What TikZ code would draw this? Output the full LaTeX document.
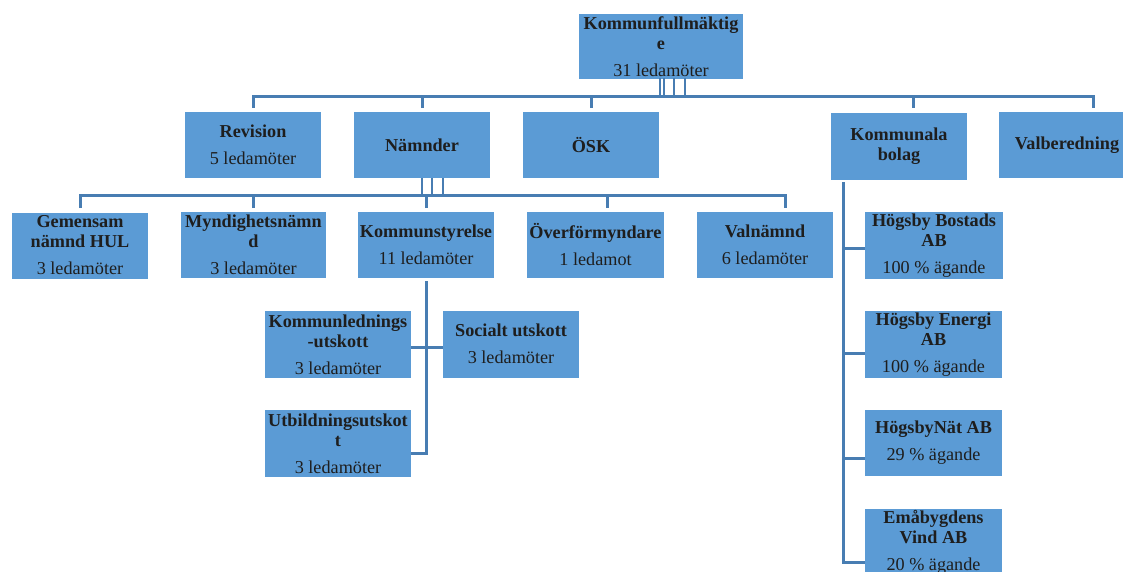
\documentclass[tikz,border=0pt]{standalone}
\usepackage{fontspec}
\setmainfont{Liberation Serif}
\usepackage{tikz}
\usetikzlibrary{calc}
\definecolor{boxblue}{RGB}{91,155,213}
\definecolor{lineblue}{RGB}{72,125,178}
\definecolor{textdark}{RGB}{30,30,30}
\tikzstyle{orgbox}=[fill=boxblue, text=textdark, align=center, inner sep=0pt, minimum width=136pt, minimum height=66pt, font=\fontsize{18.2}{20}\selectfont]
\tikzstyle{line}=[draw=lineblue, line width=3pt]
\tikzstyle{tick}=[draw=lineblue, line width=2.2pt]

\begin{document}
\begin{tikzpicture}[x=1pt, y=-1pt]
	\useasboundingbox (0,0) rectangle (1123,572);
	\clip (0,0) rectangle (1123,572);

	\node[orgbox, minimum width=164pt, minimum height=65pt] (kf) at (661,46.5) {\textbf{Kommunfullmäktig}\\\textbf{e}\\[7pt]31 ledamöter};

	\node[orgbox] (rev) at (253,145) {\textbf{Revision}\\[7pt]5 ledamöter};
	\node[orgbox] (nam) at (422,145) {\textbf{Nämnder}};
	\node[orgbox] (osk) at (591,145) {\textbf{ÖSK}};
	\node[orgbox] (kb) at (899,146.5) {\textbf{Kommunala}\\\textbf{bolag}};
	\node[orgbox] (vb) at (1067,145) {\textbf{Valberedning}};

	\node[orgbox] (gem) at (80,245.5) {\textbf{Gemensam}\\\textbf{nämnd HUL}\\[7pt]3 ledamöter};
	\node[orgbox, minimum width=145pt] (myn) at (253.5,245) {\textbf{Myndighetsnämn}\\\textbf{d}\\[7pt]3 ledamöter};
	\node[orgbox] (ks) at (426,245) {\textbf{Kommunstyrelse}\\[7pt]11 ledamöter};
	\node[orgbox, minimum width=137pt] (ofm) at (595.5,245) {\textbf{Överförmyndare}\\[7pt]1 ledamot};
	\node[orgbox] (valn) at (765,245) {\textbf{Valnämnd}\\[7pt]6 ledamöter};

	\node[orgbox, minimum width=146pt, minimum height=67pt] (kl) at (338,344.5) {\textbf{Kommunlednings}\\\textbf{-utskott}\\[7pt]3 ledamöter};
	\node[orgbox, minimum height=67pt] (soc) at (511,344) {\textbf{Socialt utskott}\\[7pt]3 ledamöter};
	\node[orgbox, minimum width=146pt, minimum height=67pt] (utb) at (338,443.5) {\textbf{Utbildningsutskot}\\\textbf{t}\\[7pt]3 ledamöter};

	\node[orgbox, minimum width=138pt, minimum height=67pt] (hb) at (934,245.5) {\textbf{Högsby Bostads}\\\textbf{AB}\\[7pt]100 \% ägande};
	\node[orgbox, minimum width=137pt, minimum height=67pt] (he) at (933.5,344.5) {\textbf{Högsby Energi}\\\textbf{AB}\\[7pt]100 \% ägande};
	\node[orgbox, minimum width=137pt] (hn) at (933.5,443) {\textbf{HögsbyNät AB}\\[7pt]29 \% ägande};
	\node[orgbox, minimum width=137pt, minimum height=67pt] (ev) at (933.5,542.5) {\textbf{Emåbygdens}\\\textbf{Vind AB}\\[7pt]20 \% ägande};

	% Top level
	\coordinate (bus1) at (0,97);
	\coordinate (kbtop) at ([xshift=14pt]kb.north |- 0,108);
	\coordinate (vbtop) at ([xshift=26pt,yshift=4pt]vb.north);
	\foreach \dx in {-1,3,13,24}
	\draw[tick] (661+\dx,78) -- (661+\dx,97);
	\draw[line] ([yshift=4pt]rev.north) |- (vbtop |- bus1) -- (vbtop);
	\foreach \n in {nam,osk}
	\draw[line] ([yshift=4pt]\n.north) -- (\n.north |- bus1);
	\draw[line] (kbtop) -- (kbtop |- bus1);

	% Nämnder
	\coordinate (bus2) at (0,195);
	\coordinate (ofmtop) at ([xshift=11.5pt]ofm.north |- 0,208);
	\coordinate (valntop) at ([xshift=20pt]valn.north |- 0,208);
	\foreach \dx in {0,10,21}
	\draw[tick] ([xshift=\dx pt]nam.south) -- ++(0,17);
	\draw[line] (gem.north |- 0,208) |- (valntop |- bus2) -- (valntop);
	\foreach \n in {myn,ks}
	\draw[line] (\n.north |- 0,208) -- (\n.north |- bus2);
	\draw[line] (ofmtop) -- (ofmtop |- bus2);

	% Kommunstyrelse
	\coordinate (kstrunk) at (ks.south |- 0,281);
	\draw[line] (kstrunk) |- (utb.east |- 0,453);
	\draw[line] (kl.east |- 0,347) -- (soc.west |- 0,347);

	% Kommunala bolag
	\coordinate (kbtrunk) at (843,182);
	\draw[line] (kbtrunk) |- (ev.west |- 0,562);
	\foreach \n/\y in {hb/248,he/353,hn/458}
	\draw[line] (\n.west |- 0,\y) -| (kbtrunk);
\end{tikzpicture}
\end{document}
